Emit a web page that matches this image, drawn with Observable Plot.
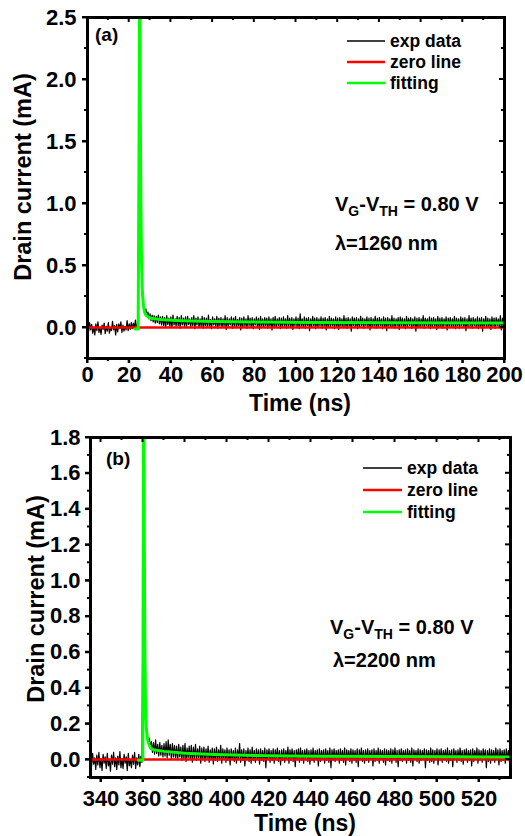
<!DOCTYPE html>
<html><head><meta charset="utf-8">
<script src="https://cdn.jsdelivr.net/npm/d3@7"></script>
<script src="https://cdn.jsdelivr.net/npm/@observablehq/plot@0.6"></script>
<style>body{margin:0;background:#fff} #chart svg{display:block}</style>
</head><body><div id="chart"></div>
<script>
const FONT = "'Liberation Sans', Arial, Helvetica, sans-serif";

// ---------- Panel (a) data ----------
const expA_start = 0, expA_step = 0.5;           // ns
const expA_uA = [ // drain current, microampere
15,-35,40,-20,25,-45,5,-60,30,-25, 45,-40,0,-55,20,-15,35,-50,10,-30,
40,-45,-5,-25,50,-20,15,-60,25,-35, 30,-10,45,-40,20,-30,10,-20,55,-25,
30,-15,40,-10,35,-5,60,-10,35,
600,2700,1300,330,220,170,120,150,90,125,70,110,55,100,45,95,35,90,40,100,30,85,
20,90,15,80,5,95,25,75,10,85, 0,100,20,70,10,90,15,80,-5,95,
20,75,10,85,0,90,25,70,5,80, 15,95,-10,75,20,85,0,70,10,90,
-5,80,15,75,0,100,10,65,-10,85, 20,70,5,90,-5,75,15,80,0,70,
10,95,-15,80,5,70,20,85,-5,75, 10,90,0,65,15,80,-20,75,5,85,
10,70,-5,95,15,75,0,80,-10,70, 20,85,5,75,-15,90,10,70,0,80,
15,75,-5,85,10,70,-20,80,5,90, 0,70,15,80,-10,75,5,85,10,70,
-5,95,10,75,0,80,-15,70,15,85, 5,75,-10,110,10,70,0,85,-5,75,
15,80,-25,70,5,90,10,75,-10,80, 0,70,15,85,-5,75,10,80,-20,70,
5,90,0,75,15,70,-10,85,5,75, -15,80,10,70,0,95,5,75,-5,80,
10,70,-30,85,15,75,0,80,-10,70, 5,90,10,75,-5,70,15,85,0,75,
-20,80,5,70,10,90,-5,75,0,80, 15,70,-10,85,5,75,-25,80,10,70,
0,95,5,75,-5,70,15,80,-15,85, 10,75,0,70,-10,90,5,75,15,80,
-5,70,10,85,-30,75,0,80,5,70, 10,95,-5,75,15,70,0,85,-10,75,
5,80,10,70,-15,90,0,75,5,80, -5,70,15,85,-20,75,10,80,0,70,
5,90,-10,75,10,70,-5,85,15,75, 0,80,-25,70,5,95,10,75,-5,80,
15,70,0,85,-10,75,5,80,-30,70, 10,90,0,75,5,70,-15,85,10,75,
-5,80,15,70,0,95,-20,75,5,80
];
const fitA_t = [22.8,24.3,24.7,25.0,25.3,25.6,25.9,26.3,26.8,27.3,28,29,31,36,45,60,80,108,150,200];
const fitA_v = [-0.012,-0.012,1.4,2.8,1.8,1.0,0.55,0.3,0.18,0.13,0.1,0.085,0.072,0.062,0.055,0.048,0.044,0.040,0.038,0.036];
const zeroA_t = [0,200], zeroA_v = [0,0];
const xTicksA = [0,20,40,60,80,100,120,140,160,180,200];
const xMinorA = [10,30,50,70,90,110,130,150,170,190];
const yTicksA = [0,0.5,1.0,1.5,2.0,2.5];
const yMinorA = [-0.25,0.25,0.75,1.25,1.75,2.25];

// ---------- Panel (b) data ----------
const expB_start = 335, expB_step = 0.5;
const expB_uA = [
20,-40,35,-25,10,-55,25,-30,40,-45, 5,-60,30,-20,15,-50,35,-35,0,-65,
25,-25,40,-40,10,-55,20,-30,45,-45, 5,-50,30,-20,15,-60,35,-35,0,-45,
25,-25,40,-50,10,-30,30,-40,20,-15,
900,2000,450,200,140,90,120,60,100,40,95,30,110,35,85,20,95,25,80,15,90,20,100,10,110,25,85,5,90,15,80,
10,75,0,85,15,70,-5,80,5,90, -10,65,10,75,0,80,-15,70,5,85,
-5,60,10,75,-20,65,0,70,-10,60, 5,75,-15,55,0,65,-25,60,-5,70,
-10,55,0,80,-20,60,5,55,-15,65, -5,55,-30,60,0,50,-10,65,-20,55,
0,90,-15,55,-5,60,-35,50,0,65, -10,55,-20,70,-5,50,-15,60,0,55,
-25,60,-5,50,-10,65,-45,55,0,60, -15,50,-5,60,-20,55,0,65,-10,50,
-30,55,-5,60,-15,50,0,70,-20,55, -5,60,-10,50,-40,55,0,60,-15,65,
-5,50,-20,55,0,60,-10,50,-25,55, -5,65,-15,50,0,55,-35,60,-10,50,
0,55,-20,60,-5,50,-15,65,-45,55, -5,60,-10,50,0,55,-20,60,-5,50,
-15,65,-30,55,0,50,-10,60,-20,55, -5,50,-15,60,-40,55,0,65,-10,50,
-20,55,-5,60,-15,50,0,55,-35,60, -10,50,-5,65,-20,55,0,50,-15,60,
-30,55,-5,50,-10,60,-20,55,0,65, -15,50,-40,55,-5,60,-10,50,0,55,
-20,60,-5,50,-15,65,-35,55,0,50, -10,60,-20,55,-5,50,0,60,-45,55,
-5,50,-15,65,-10,55,-20,50,0,60, -30,55,-5,60,-15,50,0,55,-10,65,
-20,50,-5,55,-40,60,0,50,-15,55, -5,65,-10,50,-25,55,0,60,-15,50,
-5,55,-35,60,-10,50,0,65,-20,55, -5,50,-15,60,0,55,-45,50,-10,60,
-20,55,-5,50,-15,65,0,55,-30,60, -10,50,-5,55,-20,60,0,50,-15,55
];
const fitB_t = [357.8,359.9,360.1,360.3,360.6,360.9,361.2,361.6,362.2,363.0,363.6,365,370,380,394,420,441,480,535];
const fitB_v = [-0.004,-0.004,1.1,2.1,1.2,0.6,0.3,0.17,0.11,0.08,0.065,0.055,0.046,0.035,0.028,0.021,0.019,0.017,0.015];
const zeroB_t = [335,535], zeroB_v = [0,0];
const xTicksB = [340,360,380,400,420,440,460,480,500,520];
const xMinorB = [350,370,390,410,430,450,470,490,510,530];
const yTicksB = [0,0.2,0.4,0.6,0.8,1.0,1.2,1.4,1.6,1.8];
const yMinorB = [-0.1,0.1,0.3,0.5,0.7,0.9,1.1,1.3,1.5,1.7];

const legendItems = [
  {name: "exp data", color: "#000000", w: 1.5},
  {name: "zero line", color: "#ff0000", w: 2.5},
  {name: "fitting", color: "#00ff00", w: 2.5}
];

function panel(c) {
  const W = 525;
  const exp = c.expU.map((u, i) => ({t: c.expStart + i * c.expStep, v: u / 1000}));
  const fit = c.fitT.map((t, i) => ({t, v: c.fitV[i]}));
  const zero = c.zeroT.map((t, i) => ({t, v: c.zeroV[i]}));
  const [xa, xb] = c.xDomain, [ya, yb] = c.yDomain;
  const box = [
    {x1: xa, y1: ya, x2: xb, y2: ya}, {x1: xb, y1: ya, x2: xb, y2: yb},
    {x1: xb, y1: yb, x2: xa, y2: yb}, {x1: xa, y1: yb, x2: xa, y2: ya}
  ];
  const svg = Plot.plot({
    width: W, height: c.height,
    marginTop: c.mt, marginBottom: c.mb, marginLeft: c.ml, marginRight: c.mr,
    style: {fontFamily: FONT, background: "white", color: "black", overflow: "visible"},
    x: {domain: c.xDomain},
    y: {domain: c.yDomain},
    marks: [
      Plot.line(exp, {x: "t", y: "v", stroke: "black", strokeWidth: 1.2, clip: true}),
      Plot.line(zero, {x: "t", y: "v", stroke: "#ff0000", strokeWidth: 2.5, clip: true}),
      Plot.line(fit, {x: "t", y: "v", stroke: "#00ff00", strokeWidth: 3, clip: true}),
      Plot.axisX(c.xTicks, {tickSize: 5, tickPadding: c.xPad, fontSize: 22, fontWeight: "bold", strokeWidth: 2, label: null, tickFormat: d => String(d)}),
      Plot.axisY(c.yTicks, {tickSize: 5, tickPadding: c.yPad, fontSize: 22, fontWeight: "bold", strokeWidth: 2, label: null, tickFormat: d => d.toFixed(1)}),
      Plot.link(box, {x1: "x1", y1: "y1", x2: "x2", y2: "y2", stroke: "black", strokeWidth: 3, strokeLinecap: "square"}),
      Plot.frame({stroke: "black", strokeWidth: 3})
    ]
  });
  const s = d3.select(svg);
  const sx = svg.scale("x"), sy = svg.scale("y");
  const x0 = c.ml, x1 = W - c.mr, y0 = c.mt, y1 = c.height - c.mb;
  const tg = s.append("g").attr("stroke", "black").attr("stroke-width", 2);
  const tick = (p, q, r, t) => tg.append("line").attr("x1", p).attr("y1", q).attr("x2", r).attr("y2", t).attr("stroke", "black");
  c.xTicks.forEach(v => { const x = sx.apply(v); tick(x, y1, x, y1 + 5); tick(x, y0, x, y0 + 5); });
  c.xMinor.forEach(v => { const x = sx.apply(v); tick(x, y1, x, y1 + 3); tick(x, y0, x, y0 + 3); });
  c.yTicks.forEach(v => { const y = sy.apply(v); tick(x0 - 5, y, x0, y); tick(x1 - 5, y, x1, y); });
  c.yMinor.forEach(v => { const y = sy.apply(v); tick(x0 - 3, y, x0, y); tick(x1 - 3, y, x1, y); });

  const txt = (x, y, size) => s.append("text").attr("x", x).attr("y", y)
      .attr("font-family", FONT).attr("font-weight", "bold").attr("font-size", size)
      .attr("fill", "black").attr("text-anchor", "start");
  txt(c.tag.x, c.tag.y, 19).text(c.tag.text);
  legendItems.forEach((it, i) => {
    const y = c.leg.y + i * c.leg.dy;
    s.append("line").attr("x1", c.leg.x1).attr("x2", c.leg.x2).attr("y1", y).attr("y2", y)
      .attr("stroke", it.color).attr("stroke-width", it.w);
    txt(c.leg.tx, y, 17.5).attr("dy", "0.35em").text(it.name);
  });
  const a = txt(c.ann.x, c.ann.y1, 20);
  a.append("tspan").text("V");
  a.append("tspan").attr("font-size", 14).attr("dy", 5).text("G");
  a.append("tspan").attr("dy", -5).text("-V");
  a.append("tspan").attr("font-size", 14).attr("dy", 5).text("TH");
  a.append("tspan").attr("dy", -5).text(" = 0.80 V");
  txt(c.ann.x2, c.ann.y2, 20).text(c.ann.lambda);
  txt(c.xt.x, c.xt.y, 23).attr("text-anchor", "middle").text("Time (ns)");
  txt(0, 0, 23.5).attr("text-anchor", "middle").attr("dy", "0.35em")
    .attr("transform", `translate(${c.yt.x},${c.yt.y}) rotate(-90)`).text("Drain current (mA)");
  return svg;
}

const root = document.getElementById("chart");
root.appendChild(panel({
  height: 425, mt: 17, mb: 67, ml: 87, mr: 21,
  xDomain: [0, 200], yDomain: [-0.25, 2.5],
  expU: expA_uA, expStart: expA_start, expStep: expA_step,
  fitT: fitA_t, fitV: fitA_v, zeroT: zeroA_t, zeroV: zeroA_v,
  xTicks: xTicksA, xMinor: xMinorA, yTicks: yTicksA, yMinor: yMinorA,
  xPad: 3, yPad: 6,
  tag: {x: 95, y: 41, text: "(a)"},
  leg: {x1: 347, x2: 385, tx: 390, y: 41, dy: 21},
  ann: {x: 335, y1: 211, x2: 335, y2: 250, lambda: "λ=1260 nm"},
  xt: {x: 300, y: 411},
  yt: {x: 23, y: 177}
}));
root.appendChild(panel({
  height: 411, mt: 12, mb: 59, ml: 90, mr: 15,
  xDomain: [335, 535], yDomain: [-0.1, 1.8],
  expU: expB_uA, expStart: expB_start, expStep: expB_step,
  fitT: fitB_t, fitV: fitB_v, zeroT: zeroB_t, zeroV: zeroB_v,
  xTicks: xTicksB, xMinor: xMinorB, yTicks: yTicksB, yMinor: yMinorB,
  xPad: 8, yPad: 5,
  tag: {x: 106, y: 40, text: "(b)"},
  leg: {x1: 363, x2: 402, tx: 407, y: 43, dy: 22},
  ann: {x: 330, y1: 209, x2: 333, y2: 242, lambda: "λ=2200 nm"},
  xt: {x: 305, y: 406},
  yt: {x: 36, y: 174}
}));
</script></body></html>
